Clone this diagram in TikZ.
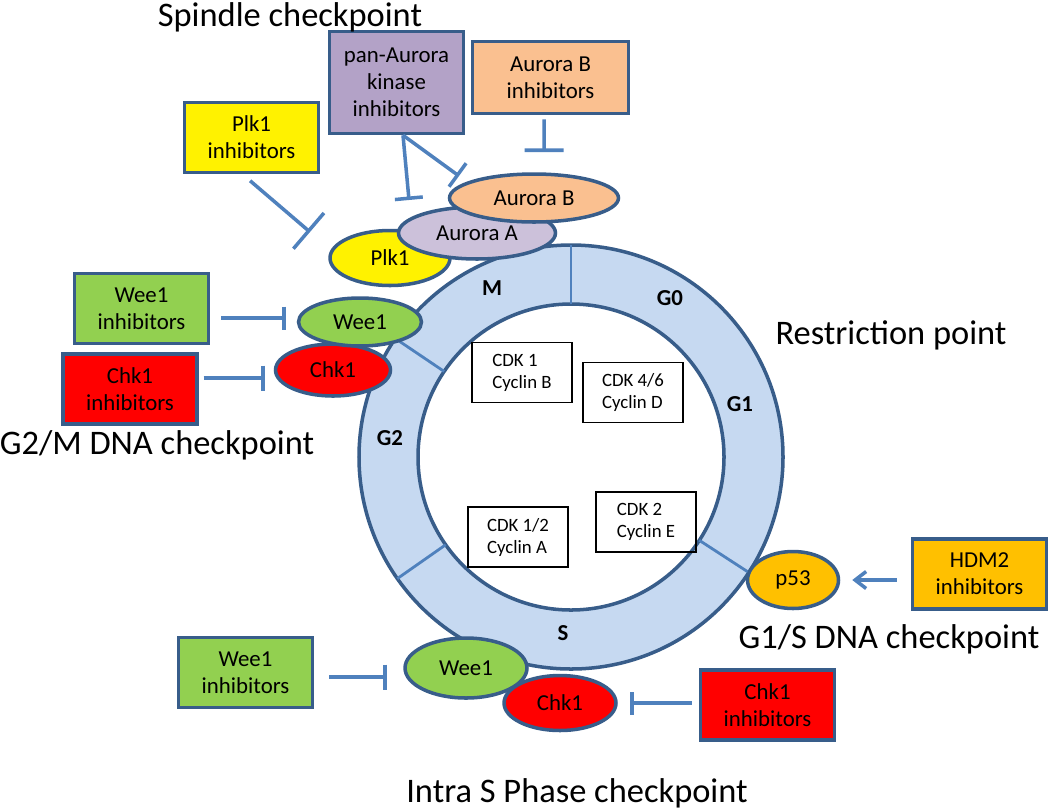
\documentclass[tikz,border=0pt]{standalone}
\usepackage{fontspec}
\setmainfont{Carlito}
\usetikzlibrary{shapes.geometric,arrows.meta}
\definecolor{edge}{HTML}{385D8A}
\definecolor{link}{HTML}{4F81BD}
\definecolor{ringfill}{HTML}{C6D9F1}
\definecolor{leaf}{HTML}{92D050}
\definecolor{peach}{HTML}{FAC090}
\definecolor{lilac}{HTML}{B3A2C7}
\definecolor{lilaclight}{HTML}{CCC1DA}
\definecolor{gold}{HTML}{FFC000}
\begin{document}
\begin{tikzpicture}[x=0.02cm, y=-0.02cm,
        inh/.style={draw=edge, line width=2pt, align=center, inner sep=0pt,
            minimum width=2.68cm, minimum height=1.4cm, font=\fontsize{13}{15.5}\selectfont},
        prot/.style={ellipse, draw=edge, line width=2pt, inner sep=0pt, font=\fontsize{13}{15.5}\selectfont},
        cdk/.style={draw, line width=0.9pt, align=left, minimum width=2cm, minimum height=1.2cm,
            font=\fontsize{10.7}{12.5}\selectfont},
        phase/.style={font=\fontsize{13}{15}\selectfont\bfseries},
        check/.style={anchor=base, font=\fontsize{19.6}{22}\selectfont},
        block/.style={draw=link, line width=2pt, shorten <=0.2cm}]
        \fill[white] (0,0) rectangle (1050,809);
        \useasboundingbox (0,0) rectangle (1050,809);
        \coordinate (c) at (571,457);
        \path[draw=edge, line width=2pt, fill=ringfill, even odd rule]
            (c) circle[radius=212] (c) circle[radius=153];
        \foreach \a in {-90,-146,-215,-327}
        {
            \draw[link, line width=1.6pt] ([shift={(\a:153)}]c) -- ([shift={(\a:212)}]c);
        }
        \node[phase] (pM) at (492,288) {M};
        \node[phase] (pGzero) at (670,298) {G0};
        \node[phase] (pGone) at (740,404) {G1};
        \node[phase] (pGtwo) at (390,438) {G2};
        \node[phase] (pS) at (563,633) {S};
        \node[cdk] (cdkB) at (522,372.5) {CDK 1\\Cyclin B};
        \node[cdk] (cdkD) at (633,392.5) {CDK 4/6\\Cyclin D};
        \node[cdk] (cdkA) at (518,537) {CDK 1/2\\Cyclin A};
        \node[cdk] (cdkE) at (646,522) {CDK 2\\Cyclin E};
        \node[prot, fill=yellow, minimum width=2.4cm, minimum height=1.1cm] (plk) at (390,258) {Plk1};
        \node[prot, fill=lilaclight, minimum width=3.14cm, minimum height=1.04cm] (aurA) at (477,233) {Aurora A};
        \node[prot, fill=peach, minimum width=3.38cm, minimum height=0.96cm] (aurB) at (534,198) {Aurora B};
        \node[prot, fill=red, minimum width=2.3cm, minimum height=1.04cm] (chkA) at (333,370) {Chk1};
        \node[prot, fill=leaf, minimum width=2.46cm, minimum height=0.96cm] (weeA) at (360,322) {Wee1};
        \node[prot, fill=leaf, minimum width=2.44cm, minimum height=1.2cm] (weeB) at (466,668) {Wee1};
        \node[prot, fill=red, minimum width=2.24cm, minimum height=1.1cm] (chkB) at (560,703) {Chk1};
        \node[prot, fill=gold, minimum width=1.82cm, minimum height=1.14cm] (pft) at (793,580) {p53};
        \node[inh, fill=lilac, minimum height=2.04cm] (panInh) at (396.5,82.5) {pan-Aurora\\kinase\\inhibitors};
        \node[inh, fill=peach, minimum width=3.12cm, minimum height=1.44cm] (aurBInh) at (550.5,77.5) {Aurora B\\inhibitors};
        \node[inh, fill=yellow] (plkInh) at (251.5,137.5) {Plk1\\inhibitors};
        \node[inh, fill=leaf] (weeInhA) at (141.5,308.5) {Wee1\\inhibitors};
        \node[inh, fill=red] (chkInhA) at (130,389) {Chk1\\inhibitors};
        \node[inh, fill=leaf] (weeInhB) at (245.5,672.5) {Wee1\\inhibitors};
        \node[inh, fill=red] (chkInhB) at (767.5,705) {Chk1\\inhibitors};
        \node[inh, fill=gold] (hdmInh) at (979.5,574) {HDM2\\inhibitors};
        \coordinate (plkTip) at (310,232);
        \coordinate (aurATip) at (409,200);
        \coordinate (aurBTipA) at (459,176);
        \coordinate (aurBTipB) at (544,152);
        \coordinate (weeTipA) at (286,318);
        \coordinate (chkTipA) at (265,378);
        \coordinate (weeTipB) at (387,677);
        \coordinate (chkTipB) at (630,703);
        \draw[block, -{Bar[width=0.94cm]}] ([xshift=-0.18cm]plkInh.south) -- (plkTip);
        \draw[block, shorten <=0pt, -{Bar[width=0.56cm]}] ([xshift=0.13cm]panInh.south) -- (aurATip);
        \draw[block, shorten <=0pt, -{Bar[width=0.58cm]}] ([xshift=0.13cm]panInh.south) -- (aurBTipA);
        \draw[block, shorten <=0.08cm, -{Bar[width=0.78cm]}] ([xshift=-0.13cm]aurBInh.south) -- (aurBTipB);
        \draw[block, shorten <=0.22cm, -{Bar[width=0.46cm]}] (weeInhA.east |- weeTipA) -- (weeTipA);
        \draw[block, shorten <=0.1cm, -{Bar[width=0.5cm]}] (chkInhA.east |- chkTipA) -- (chkTipA);
        \draw[block, shorten <=0.3cm, -{Bar[width=0.5cm]}] (weeInhB.east |- weeTipB) -- (weeTipB);
        \draw[block, shorten <=0.14cm, -{Bar[width=0.46cm]}] (chkInhB.west |- chkTipB) -- (chkTipB);
        \draw[block, shorten <=0.28cm, shorten >=0.24cm, -{Straight Barb[length=0.22cm, width=0.34cm]}]
            (hdmInh.west |- pft.east) -- (pft.east);
        \node[check] (spindle) at (290,26) {Spindle checkpoint};
        \node[check] (gtwoM) at (157,454) {G2/M DNA checkpoint};
        \node[check] (restr) at (891,344) {Restriction point};
        \node[check] (goneS) at (889,648) {G1/S DNA checkpoint};
        \node[check] (intraS) at (577,802) {Intra S Phase checkpoint};
\end{tikzpicture}
\end{document}
